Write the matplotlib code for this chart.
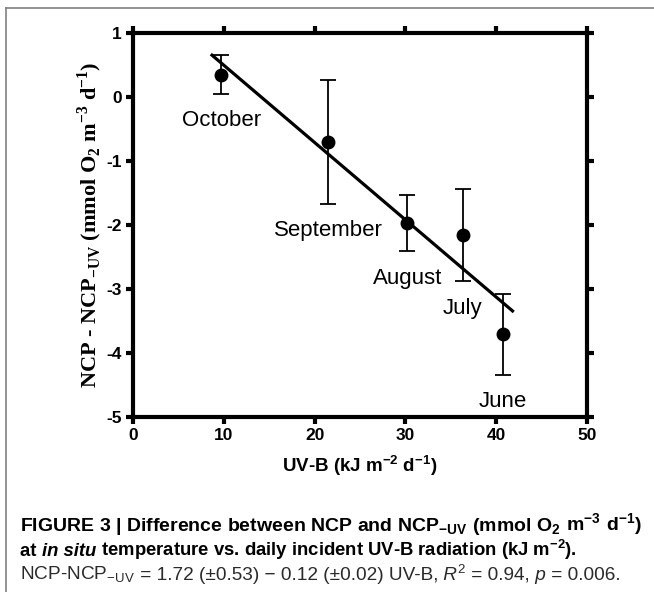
import matplotlib
matplotlib.use('Agg')
import matplotlib.pyplot as plt
from matplotlib.lines import Line2D
import numpy as np

## NCP difference vs UV-B

months = ['October', 'September', 'August', 'July', 'June']
uvb = [9.7, 21.5, 30.2, 36.3, 40.7]
ncp_diff = [0.35, -0.70, -1.97, -2.16, -3.71]
err_top = [0.66, 0.27, -1.53, -1.44, -3.08]
err_bottom = [0.05, -1.67, -2.41, -2.88, -4.34]
fit_range = [8.7, 41.8]

x_ticks = [0, 10, 20, 30, 40, 50]
y_ticks = [1, 0, -1, -2, -3, -4, -5]

SANS = 'Liberation Sans'
SERIF = 'Liberation Serif'

plt.rcParams['axes.unicode_minus'] = False

fig = plt.figure(figsize=(6.54, 5.92), dpi=100)
ax = fig.add_axes([133 / 654, 1 - 417 / 592, 454 / 654, 384 / 592])

y = np.array(ncp_diff)
yerr = [y - np.array(err_bottom), np.array(err_top) - y]
ax.errorbar(uvb, y, yerr=yerr, fmt='o', color='black', markersize=9,
            elinewidth=1.3, capsize=6, capthick=1.3, zorder=3)

coef = np.polyfit(uvb, ncp_diff, 1)
xs = np.array(fit_range)
ax.plot(xs, np.polyval(coef, xs), color='black', linewidth=2.3, zorder=2)

for name, xv, lo in zip(months, uvb, err_bottom):
    ax.annotate(name, xy=(xv, lo), xytext=(0, -19.5), textcoords='offset points',
                ha='center', va='center', fontsize=16, family=SANS)

ax.set_xlim(0, 50)
ax.set_ylim(-5, 1)
ax.set_xticks(x_ticks)
ax.set_yticks(y_ticks)
for s in ax.spines.values():
    s.set_linewidth(3)
ax.tick_params(direction='out', length=5, width=3, top=True, right=True,
               labelsize=12.5, pad=3)
for lab in ax.get_xticklabels() + ax.get_yticklabels():
    lab.set_family(SANS)
    lab.set_fontweight('bold')

ax.set_xlabel(r'UV-B (kJ m$^{\mathregular{-2}}$ d$^{\mathregular{-1}}$)',
              family=SANS, fontweight='bold', fontsize=13.5, labelpad=7)
ax.set_ylabel(r'NCP - NCP$_{\mathregular{-UV}}$ (mmol O$_{\mathregular{2}}$ m$^{\mathregular{-3}}$ d$^{\mathregular{-1}}$)',
              family=SERIF, fontweight='bold', fontsize=16, labelpad=2)

# caption, drawn piece by piece
r = fig.canvas.get_renderer()

def caption_line(parts, x, yy, **kw):
    for s, extra in parts:
        opts = dict(kw)
        opts.update(extra)
        t = fig.text(x, yy, s, va='baseline', **opts)
        x += t.get_window_extent(r).width / fig.bbox.width

bold = dict(family=SANS, fontweight='bold', color='black')
light = dict(family=SANS, fontsize=13.7, color='#2a2a2a')

caption_line([('FIGURE 3 | Difference between NCP and NCP$_{\\mathregular{\u2212UV}}$', {}),
              (' (mmol O$_{\\mathregular{2}}$', {}), (' m$^{\\mathregular{\u22123}}$', {}),
              (' d$^{\\mathregular{\u22121}}$)', {})],
             20 / 654, 1 - 531 / 592, fontsize=14, **bold)
caption_line([('at ', {}), ('in situ', {'style': 'italic'}),
              (' temperature vs. daily incident UV-B radiation (kJ m$^{\\mathregular{\u22122}}$).', {})],
             20 / 654, 1 - 556 / 592, fontsize=13.3, **bold)
caption_line([('NCP-NCP$_{\\mathregular{\u2212UV}}$', {}),
              (' = 1.72 (\u00b10.53) \u2212 0.12 (\u00b10.02) UV-B,', {}),
              (' R', {'style': 'italic'}), ('$^{\\mathregular{2}}$', {}),
              (' = 0.94,', {}), (' p', {'style': 'italic'}), (' = 0.006.', {})],
             20 / 654, 1 - 580 / 592, **light)

# frame around the figure panel
fig.add_artist(Line2D([6 / 654, 6 / 654], [0, 1 - 8 / 592], transform=fig.transFigure,
                      color='#808080', linewidth=1.2))
fig.add_artist(Line2D([6 / 654, 1], [1 - 8 / 592, 1 - 8 / 592], transform=fig.transFigure,
                      color='#808080', linewidth=1.2))

fig.savefig('out.png', dpi=100)
plt.close(fig)
